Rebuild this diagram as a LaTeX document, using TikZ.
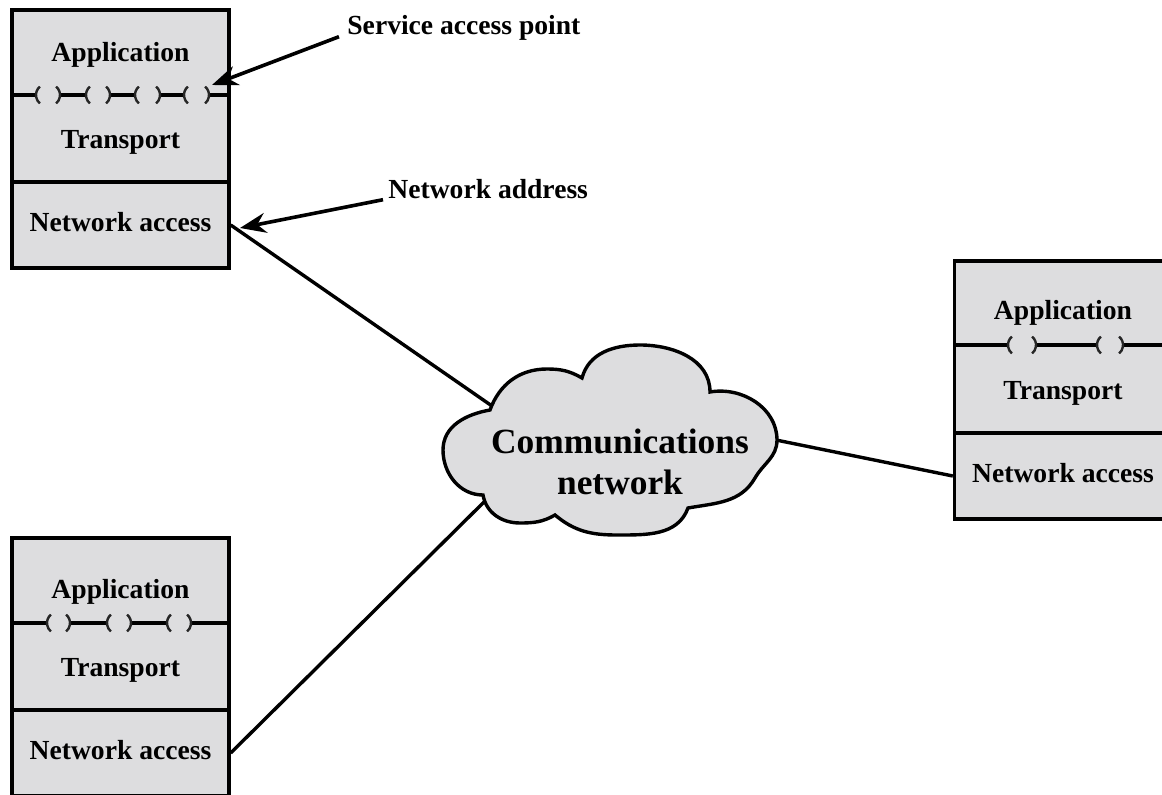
\documentclass[tikz,border=0pt]{standalone}
\usepackage{fontspec}
\setmainfont{Liberation Serif}
\usetikzlibrary{arrows.meta}
\definecolor{layergray}{RGB}{221,221,223}

\begin{document}
\begin{tikzpicture}[x=0.5pt,y=0.5pt,
    layer/.style={draw,line width=1.7pt,fill=layergray,minimum width=108.5pt,inner sep=0pt},
    lbl/.style={font=\fontsize{13.8}{16}\selectfont\bfseries,text height=9.5pt,text depth=2.8pt,inner sep=0pt},
    sapline/.style={line width=1.6pt},
    paren/.style={line width=1.2pt,black!85},
    link/.style={line width=1.7pt},
    pointer/.style={line width=1.8pt,-{Stealth[length=13pt,width=10pt]}}]
  \useasboundingbox (0,0) rectangle (1162,794);

  % hosts
  \node[layer,minimum height=86pt] (up1) at (120.5,698) {};
  \node[layer,minimum height=43pt,lbl] (na1) at (120.5,569) {Network access};
  \node[lbl] (app1) at (120.5,739) {Application};
  \node[lbl] (tr1) at (120.5,652) {Transport};

  \node[layer,minimum height=86pt] (up2) at (1063,447) {};
  \node[layer,minimum height=43pt,lbl] (na2) at (1063,318) {Network access};
  \node[lbl] (app2) at (1063,481) {Application};
  \node[lbl] (tr2) at (1063,401) {Transport};

  \node[layer,minimum height=86pt] (up3) at (120.5,170) {};
  \node[layer,minimum height=43pt,lbl] (na3) at (120.5,41) {Network access};
  \node[lbl] (app3) at (120.5,202) {Application};
  \node[lbl] (tr3) at (120.5,124) {Transport};

  % service access points
  \draw[sapline] (12,699) -- (36,699) (60,699) -- (86,699) (110,699) -- (135,699)
    (160,699) -- (184,699) (209,699) -- (229,699);
  \foreach \x in {36,86,135,184}
    \draw[paren] (\x+3.9,707.4) arc[start angle=130,end angle=230,radius=5.5pt];
  \foreach \x in {60,110,160,209}
    \draw[paren] (\x-3.9,707.4) arc[start angle=50,end angle=-50,radius=5.5pt];

  \draw[sapline] (955,449) -- (1008,449) (1036,449) -- (1097,449) (1123,449) -- (1171,449);
  \foreach \x in {1008,1097}
    \draw[paren] (\x+3.9,457.4) arc[start angle=130,end angle=230,radius=5.5pt];
  \foreach \x in {1036,1123}
    \draw[paren] (\x-3.9,457.4) arc[start angle=50,end angle=-50,radius=5.5pt];

  \draw[sapline] (12,171) -- (47,171) (70,171) -- (107,171) (131,171) -- (167,171)
    (191,171) -- (229,171);
  \foreach \x in {47,107,167}
    \draw[paren] (\x+3.9,179.4) arc[start angle=130,end angle=230,radius=5.5pt];
  \foreach \x in {70,131,191}
    \draw[paren] (\x-3.9,179.4) arc[start angle=50,end angle=-50,radius=5.5pt];

  % links to the network
  \coordinate (c1) at (492,388);
  \coordinate (c2) at (486,294);
  \coordinate (c3) at (776,354);
  \draw[link] (na1.east) -- (c1);
  \draw[link] (na3.east) -- (c2);
  \draw[link] (c3) -- (na2.west);

  % cloud
  \draw[link,fill=layergray] (490,384) to[out=70,in=180] (547,425)
    to[out=0,in=150] (582,416) to[out=75,in=180] (640,449)
    to[out=0,in=90] (710,402) to[out=10,in=90] (777,354)
    to[out=-90,in=60] (755,316) to[out=-120,in=10] (688,286)
    to[out=-110,in=0] (617,259) to[out=180,in=-40] (555,279)
    to[out=-150,in=0] (520,271) to[out=180,in=-80] (483,299)
    to[out=180,in=-90] (443,344) to[out=90,in=190] (490,384) -- cycle;
  \node[align=center,font=\fontsize{17.7}{20.5}\selectfont\bfseries] (net) at (620,332)
    {Communications\\network};

  % callouts
  \node[lbl,anchor=west] (sap) at (347,766) {Service access point};
  \node[lbl,anchor=west] (nadr) at (388,602) {Network address};
  \coordinate (sapt) at (212,709);
  \coordinate (nadrt) at (240,566);
  \draw[pointer] ([xshift=-4pt,yshift=2pt]sap.south west) -- (sapt);
  \draw[pointer] ([xshift=-2.5pt,yshift=2.5pt]nadr.south west) -- (nadrt);
\end{tikzpicture}
\end{document}
